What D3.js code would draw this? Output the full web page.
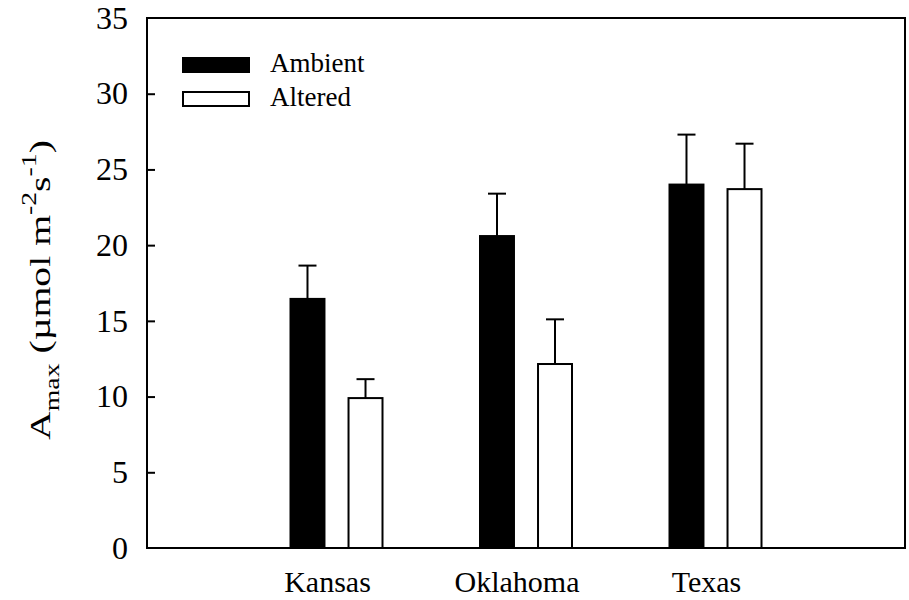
<!DOCTYPE html>
<html>
<head>
<meta charset="utf-8">
<script src="https://cdn.jsdelivr.net/npm/d3@7"></script>
<style>
  body { margin: 0; background: #fff; }
  svg text { font-family: "Liberation Serif", "Times New Roman", serif; fill: #000; }
</style>
</head>
<body>
<div id="chart"></div>
<script>
const sites = ['Kansas', 'Oklahoma', 'Texas'];
const series = ['Ambient', 'Altered'];
const ambient = [16.45, 20.6, 24.0];
const ambientErr = [2.2, 2.8, 3.3];
const altered = [9.9, 12.15, 23.7];
const alteredErr = [1.25, 2.95, 3.0];
const yTicks = [0, 5, 10, 15, 20, 25, 30, 35];

const width = 909, height = 600;
const margin = { left: 147, right: 4, top: 18, bottom: 52 };

const data = sites.map((s, i) => ({
  site: s,
  values: [
    { key: series[0], value: ambient[i], err: ambientErr[i] },
    { key: series[1], value: altered[i], err: alteredErr[i] }
  ]
}));

const svg = d3.select('#chart').append('svg')
  .attr('width', width)
  .attr('height', height);

const x = d3.scalePoint()
  .domain(sites)
  .range([margin.left, width - margin.right])
  .padding(1);

const xg = d3.scaleBand()
  .domain(series)
  .range([-47, 47])
  .paddingInner(0.38);

const y = d3.scaleLinear()
  .domain([0, 35])
  .range([height - margin.bottom, margin.top]);

const fill = d3.scaleOrdinal().domain(series).range(['#000', '#fff']);

// y axis, ticks pointing inwards
const yAxis = d3.axisLeft(y).tickValues(yTicks).tickSizeInner(-8).tickSizeOuter(0).tickPadding(19);
svg.append('g')
  .attr('transform', `translate(${margin.left},0)`)
  .call(yAxis)
  .call(g => g.select('.domain').remove())
  .call(g => g.selectAll('line').attr('stroke', '#000').attr('stroke-width', 2)
    .attr('display', d => (d === 0 || d === 35) ? 'none' : null))
  .call(g => g.selectAll('text').attr('font-size', 32));

// category labels
svg.append('g')
  .selectAll('text')
  .data(sites)
  .join('text')
  .attr('x', d => x(d) - 9)
  .attr('y', height - margin.bottom + 44)
  .attr('text-anchor', 'middle')
  .attr('font-size', 30)
  .text(d => d);

// bars
const groups = svg.append('g')
  .selectAll('g')
  .data(data)
  .join('g')
  .attr('transform', d => `translate(${x(d.site)},0)`);

groups.selectAll('line.err')
  .data(d => d.values)
  .join('line')
  .attr('class', 'err')
  .attr('x1', d => xg(d.key) + xg.bandwidth() / 2)
  .attr('x2', d => xg(d.key) + xg.bandwidth() / 2)
  .attr('y1', d => y(d.value))
  .attr('y2', d => y(d.value + d.err))
  .attr('stroke', '#000')
  .attr('stroke-width', 2);

groups.selectAll('line.cap')
  .data(d => d.values)
  .join('line')
  .attr('class', 'cap')
  .attr('x1', d => xg(d.key) + xg.bandwidth() / 2 - 9)
  .attr('x2', d => xg(d.key) + xg.bandwidth() / 2 + 9)
  .attr('y1', d => y(d.value + d.err))
  .attr('y2', d => y(d.value + d.err))
  .attr('stroke', '#000')
  .attr('stroke-width', 2);

groups.selectAll('rect')
  .data(d => d.values)
  .join('rect')
  .attr('x', d => xg(d.key) + 1)
  .attr('y', d => y(d.value))
  .attr('width', xg.bandwidth() - 2)
  .attr('height', d => y(0) - y(d.value))
  .attr('fill', d => fill(d.key))
  .attr('stroke', '#000')
  .attr('stroke-width', 2);

// frame
svg.append('rect')
  .attr('x', margin.left)
  .attr('y', margin.top)
  .attr('width', width - margin.left - margin.right)
  .attr('height', height - margin.top - margin.bottom)
  .attr('fill', 'none')
  .attr('stroke', '#000')
  .attr('stroke-width', 2);

// legend
const legend = svg.append('g')
  .attr('transform', 'translate(182,57)')
  .selectAll('g')
  .data(series)
  .join('g')
  .attr('transform', (d, i) => `translate(0,${i * 34})`);

legend.append('rect')
  .attr('x', 1)
  .attr('y', 1)
  .attr('width', 66)
  .attr('height', 14)
  .attr('fill', fill)
  .attr('stroke', '#000')
  .attr('stroke-width', 2);

legend.append('text')
  .attr('x', 88)
  .attr('y', 15)
  .attr('font-size', 27)
  .text(d => d);

// y title
const title = svg.append('g')
  .attr('transform', 'translate(50,290) rotate(-90)')
  .append('text')
  .attr('text-anchor', 'middle')
  .attr('font-size', 30);

title.append('tspan').text('A');
title.append('tspan').attr('font-size', 21).attr('dy', 9).text('max');
title.append('tspan').attr('dy', -9).text(' (\u00b5mol m');
title.append('tspan').attr('font-size', 21).attr('dy', -14).text('-2');
title.append('tspan').attr('dy', 14).text('s');
title.append('tspan').attr('font-size', 21).attr('dy', -14).text('-1');
title.append('tspan').attr('dy', 14).text(')');

// stretch the title along its length to fill the span seen in the figure
const bb = title.node().getBBox();
title.attr('transform', `scale(${300 / bb.width},1)`);
</script>
</body>
</html>
